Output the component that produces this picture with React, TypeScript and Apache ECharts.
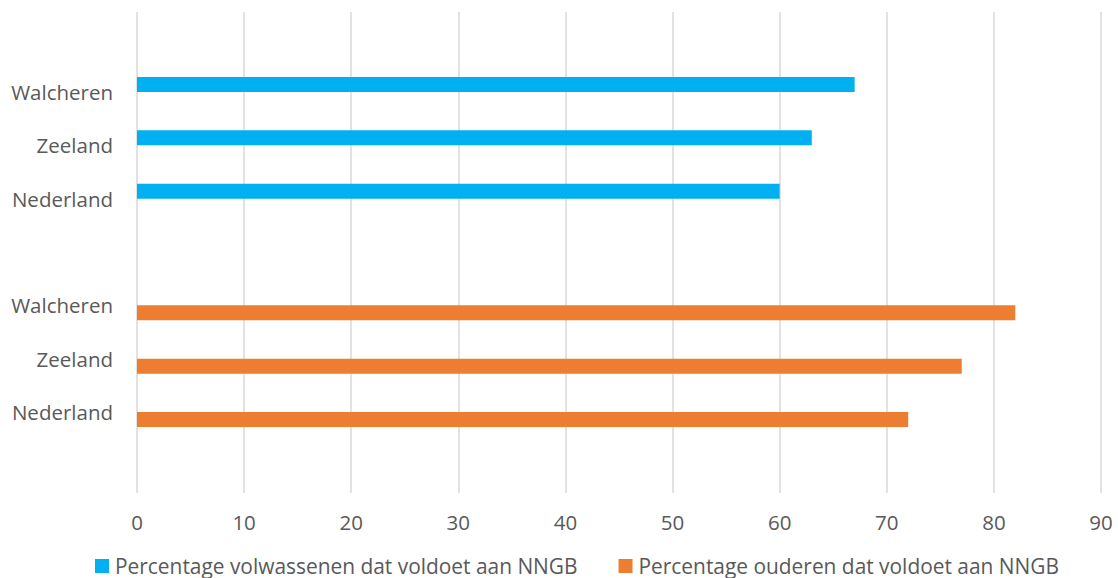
import React, { useEffect, useRef } from "react";
import * as echarts from "echarts";

const categories = ["", "Walcheren", "Zeeland", "Nederland", "", "Walcheren", "Zeeland", "Nederland", ""];
const volwassenen = [null, 67, 63, 60, null, null, null, null, null];
const ouderen = [null, null, null, null, null, 82, 77, 72, null];
const seriesNames = ["Percentage volwassenen dat voldoet aan NNGB", "Percentage ouderen dat voldoet aan NNGB"];

export default function App() {
  const ref = useRef<HTMLDivElement>(null);
  useEffect(() => {
    const chart = echarts.init(ref.current!, null, { renderer: "svg" });
    const font = "'Open Sans', sans-serif";
    chart.setOption({
      animation: false,
      textStyle: { fontFamily: font },
      grid: { left: 137, right: 17, top: 12, bottom: 86, containLabel: false },
      xAxis: {
        type: "value",
        min: 0,
        max: 90,
        interval: 10,
        axisLine: { show: false },
        axisTick: { show: true, length: 1, lineStyle: { color: "#D9D9D9", width: 1.5 } },
        splitLine: { show: true, lineStyle: { color: "#D9D9D9", width: 1.5 } },
        axisLabel: { color: "#595959", fontSize: 20.5, fontFamily: font, margin: 19 },
      },
      yAxis: {
        type: "category",
        inverse: true,
        data: categories,
        axisLine: { show: false },
        axisTick: { show: false },
        splitLine: { show: false },
        axisLabel: { color: "#595959", fontSize: 20.5, fontFamily: font, margin: 24 },
      },
      legend: {
        top: 555,
        left: 95,
        padding: 0,
        itemWidth: 14,
        itemHeight: 14,
        itemGap: 41,
        icon: "rect",
        textStyle: { color: "#595959", fontSize: 20.9, lineHeight: 22, fontFamily: font, padding: [0, 0, 0, 1] },
        data: seriesNames,
      },
      series: [
        {
          name: seriesNames[0],
          type: "bar",
          data: volwassenen,
          barWidth: 15,
          barGap: "0%",
          itemStyle: { color: "#00B0F0" },
        },
        {
          name: seriesNames[1],
          type: "bar",
          data: ouderen,
          barWidth: 15,
          barGap: "0%",
          itemStyle: { color: "#ED7D31" },
        },
      ],
    });
    return () => chart.dispose();
  }, []);
  return (
    <div
      ref={ref}
      style={{ position: "fixed", left: 0, top: 0, width: 1118, height: 578, background: "#fff" }}
    />
  );
}
